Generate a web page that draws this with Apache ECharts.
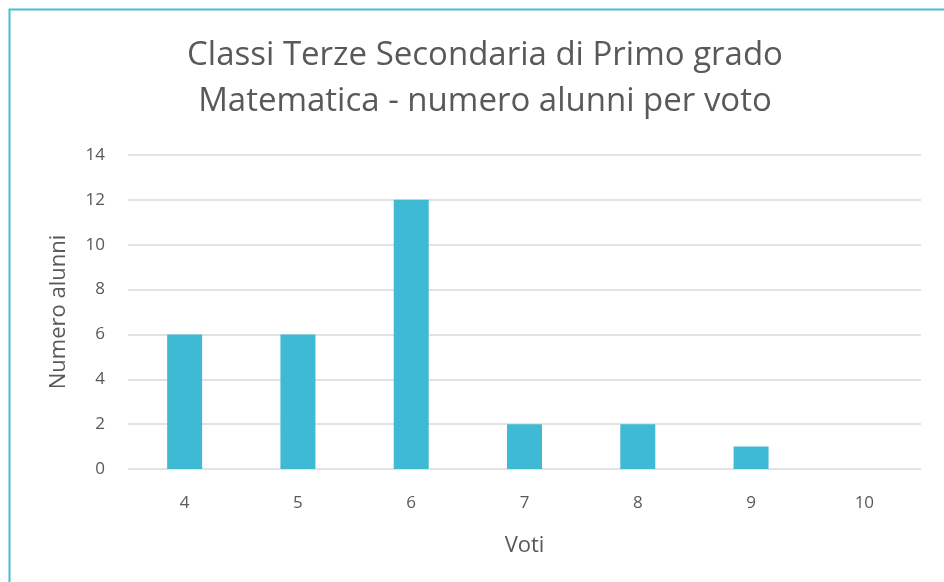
<!DOCTYPE html>
<html>
<head>
<meta charset="utf-8">
<script src="https://cdn.jsdelivr.net/npm/echarts@6/dist/echarts.min.js"></script>
<style>
  html, body { margin: 0; padding: 0; background: #fff; }
  #chart { width: 944px; height: 582px; }
</style>
</head>
<body>
<div id="chart"></div>
<script>
(function () {
    'use strict';

    var voti = ['4', '5', '6', '7', '8', '9', '10'];
    var alunni = [6, 6, 12, 2, 2, 1, 0];
    var titleLines = ['Classi Terze Secondaria di Primo grado', 'Matematica - numero alunni per voto'];

    var FONT = '"Open Sans", "Noto Sans", sans-serif';
    var TEXT = '#595959';

    var chart = echarts.init(document.getElementById('chart'));
    chart.setOption({
        animation: false,
        title: {
            text: titleLines.join('\n'),
            left: 480,
            top: 28,
            textAlign: 'center',
            textStyle: {
                fontFamily: FONT,
                fontWeight: 'normal',
                fontSize: 33,
                lineHeight: 46,
                color: TEXT
            }
        },
        graphic: [{
            type: 'rect',
            shape: { x: 9.5, y: 9.5, width: 1000, height: 1000 },
            style: { fill: 'none', stroke: '#4BBED6', lineWidth: 2 },
            silent: true
        }],
        grid: { left: 128, right: 23, top: 155, bottom: 113 },
        xAxis: {
            type: 'category',
            data: voti,
            name: 'Voti',
            nameLocation: 'middle',
            nameGap: 66,
            nameTextStyle: { fontFamily: FONT, fontSize: 22, color: TEXT },
            axisLine: { show: false },
            axisTick: { show: false },
            axisLabel: { margin: 26, fontFamily: FONT, fontSize: 17, color: TEXT }
        },
        yAxis: {
            type: 'value',
            min: 0,
            max: 14,
            interval: 2,
            name: 'Numero alunni',
            nameLocation: 'middle',
            nameGap: 58,
            nameTextStyle: { fontFamily: FONT, fontSize: 22, color: TEXT },
            axisLabel: { margin: 23, fontFamily: FONT, fontSize: 17, color: TEXT },
            splitLine: { lineStyle: { color: '#d9d9d9', width: 1.5 } }
        },
        series: [{
            type: 'bar',
            data: alunni,
            barWidth: 35,
            itemStyle: { color: '#3FBAD4' }
        }]
    });
})();
</script>
</body>
</html>
